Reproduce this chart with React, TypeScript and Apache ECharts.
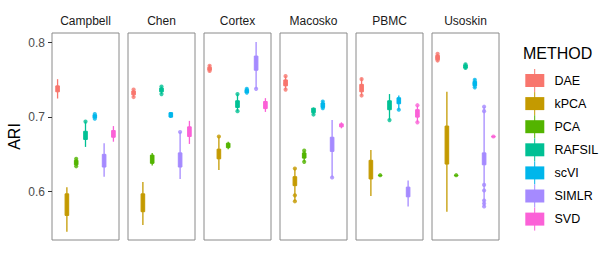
import React, { useEffect, useRef } from "react";
import * as echarts from "echarts";

const FACETS = ["Campbell", "Chen", "Cortex", "Macosko", "PBMC", "Usoskin"];
const METHODS = ["DAE", "kPCA", "PCA", "RAFSIL", "scVI", "SIMLR", "SVD"];
const COLORS = ["#F8766D", "#C49A00", "#53B400", "#00C094", "#00B6EB", "#A58AFF", "#FB61D7"];
const Y_TICKS = [0.6, 0.7, 0.8];

// box stats per method: [low whisker, q1, median, q3, high whisker]
const campbellBox = [
  [0.725, 0.734, 0.738, 0.742, 0.751],
  [0.546, 0.568, 0.58, 0.597, 0.606],
  [0.634, 0.636, 0.639, 0.642, 0.644],
  [0.66, 0.67, 0.675, 0.681, 0.694],
  [0.698, 0.699, 0.701, 0.703, 0.704],
  [0.62, 0.633, 0.641, 0.65, 0.665],
  [0.667, 0.673, 0.677, 0.682, 0.688],
];
const chenBox = [
  [0.727, 0.73, 0.733, 0.735, 0.737],
  [0.555, 0.573, 0.585, 0.597, 0.613],
  [0.635, 0.638, 0.643, 0.649, 0.652],
  [0.731, 0.734, 0.737, 0.739, 0.741],
  [0.699, 0.7, 0.703, 0.706, 0.707],
  [0.617, 0.633, 0.642, 0.652, 0.68],
  [0.664, 0.674, 0.68, 0.687, 0.695],
];
const cortexBox = [
  [0.761, 0.763, 0.765, 0.767, 0.77],
  [0.629, 0.644, 0.651, 0.657, 0.674],
  [0.657, 0.659, 0.662, 0.665, 0.667],
  [0.708, 0.713, 0.717, 0.722, 0.731],
  [0.732, 0.733, 0.735, 0.737, 0.739],
  [0.738, 0.763, 0.772, 0.782, 0.801],
  [0.707, 0.7115, 0.716, 0.721, 0.7255],
];
const macoskoBox = [
  [0.737, 0.742, 0.745, 0.75, 0.755],
  [0.587, 0.608, 0.613, 0.62, 0.631],
  [0.64, 0.645, 0.65, 0.652, 0.655],
  [0.7035, 0.706, 0.709, 0.712, 0.713],
  [0.711, 0.713, 0.716, 0.719, 0.722],
  [0.619, 0.654, 0.664, 0.673, 0.696],
  [0.685, 0.687, 0.689, 0.691, 0.693],
];
const pbmcBox = [
  [0.729, 0.734, 0.739, 0.744, 0.752],
  [0.594, 0.617, 0.63, 0.642, 0.656],
  [0.622, 0.622, 0.622, 0.622, 0.622],
  [0.696, 0.71, 0.716, 0.722, 0.731],
  [0.71, 0.718, 0.722, 0.726, 0.729],
  [0.58, 0.593, 0.599, 0.606, 0.615],
  [0.693, 0.7, 0.705, 0.71, 0.7156],
];
const usoskinBox = [
  [0.775, 0.777, 0.78, 0.783, 0.785],
  [0.573, 0.637, 0.665, 0.688, 0.734],
  [0.622, 0.622, 0.622, 0.622, 0.622],
  [0.7645, 0.766, 0.768, 0.77, 0.772],
  [0.739, 0.742, 0.745, 0.748, 0.751],
  [0.58, 0.636, 0.644, 0.652, 0.714],
  [0.674, 0.674, 0.674, 0.674, 0.674],
];

// individual points: [method index, value]
const campbellPts = [[2, 0.644], [2, 0.634], [3, 0.694], [4, 0.704], [4, 0.698]];
const chenPts = [[0, 0.737], [0, 0.727], [3, 0.741], [3, 0.731], [5, 0.68]];
const cortexPts = [[0, 0.769], [0, 0.762], [1, 0.674], [3, 0.731], [3, 0.708], [4, 0.738], [4, 0.733], [5, 0.738]];
const macoskoPts = [[0, 0.755], [0, 0.745], [0, 0.737], [1, 0.631], [1, 0.595], [1, 0.587], [2, 0.655], [2, 0.64], [3, 0.7035], [4, 0.721], [4, 0.712], [5, 0.619]];
const pbmcPts = [[0, 0.751], [0, 0.729], [2, 0.622], [3, 0.696], [4, 0.71], [6, 0.716], [6, 0.693]];
const usoskinPts = [[0, 0.785], [0, 0.78], [0, 0.776], [2, 0.622], [3, 0.771], [3, 0.766], [4, 0.75], [4, 0.745], [4, 0.74], [5, 0.714], [5, 0.708], [5, 0.609], [5, 0.6015], [5, 0.588], [5, 0.584], [5, 0.58], [6, 0.674]];

const BOXES = [campbellBox, chenBox, cortexBox, macoskoBox, pbmcBox, usoskinBox];
const POINTS = [campbellPts, chenPts, cortexPts, macoskoPts, pbmcPts, usoskinPts];

export default function App() {
  const ref = useRef<HTMLDivElement>(null);
  useEffect(() => {
    if (!ref.current) return;
    const chart = echarts.init(ref.current, undefined, { renderer: "svg" });
    const PANEL_LEFT = 52;
    const PANEL_STEP = 76;
    const PANEL_W = 67;
    const TOP = 33;
    const H = 207;
    const YMIN = 0.535;
    const YMAX = 0.813;

    const grids: any[] = [];
    const xAxes: any[] = [];
    const yAxes: any[] = [];
    const series: any[] = [];
    const graphics: any[] = [];

    FACETS.forEach((f, i) => {
      const left = PANEL_LEFT + i * PANEL_STEP;
      grids.push({
        left,
        top: TOP,
        width: PANEL_W,
        height: H,
        show: true,
        borderColor: "#8a8a8a",
        borderWidth: 1,
        backgroundColor: "#fff",
      });
      xAxes.push({ gridIndex: i, type: "value", min: 0.4, max: 7.6, show: false });
      yAxes.push({
        gridIndex: i,
        type: "value",
        min: YMIN,
        max: YMAX,
        show: i === 0,
        splitLine: { show: false },
        axisLine: { show: false },
        axisTick: {
          show: i === 0,
          length: 4,
          lineStyle: { color: "#333" },
          customValues: Y_TICKS,
        },
        axisLabel: {
          show: i === 0,
          color: "#4d4d4d",
          fontSize: 12,
          fontFamily: "Liberation Sans, Arial, sans-serif",
          margin: 7,
          customValues: Y_TICKS,
          formatter: (v: number) => v.toFixed(1),
        },
        name: i === 0 ? "ARI" : "",
        nameLocation: "middle",
        nameGap: 30,
        nameRotate: 90,
        nameTextStyle: { fontSize: 16, color: "#000", fontFamily: "Liberation Sans, Arial, sans-serif" },
      });
      graphics.push({
        type: "text",
        x: left + PANEL_W / 2,
        y: 21,
        style: {
          text: f,
          fill: "#1a1a1a",
          fontSize: 12,
          fontFamily: "Liberation Sans, Arial, sans-serif",
          align: "center",
          verticalAlign: "middle",
        },
      });
      const boxData = BOXES[i].map((b, m) => [m + 1, ...b, m]);
      series.push({
        type: "custom",
        xAxisIndex: i,
        yAxisIndex: i,
        data: boxData,
        encode: { x: 0, y: [1, 2, 3, 4, 5] },
        renderItem: (params: any, api: any) => {
          const x = api.value(0);
          const color = COLORS[api.value(6)];
          const pLow = api.coord([x, api.value(1)]);
          const pQ1 = api.coord([x, api.value(2)]);
          const pQ3 = api.coord([x, api.value(4)]);
          const pHigh = api.coord([x, api.value(5)]);
          const bw = 3.6;
          return {
            type: "group",
            children: [
              {
                type: "line",
                shape: { x1: pLow[0], y1: pLow[1], x2: pHigh[0], y2: pHigh[1] },
                style: { stroke: color, lineWidth: 1.3 },
              },
              {
                type: "rect",
                shape: { x: pQ1[0] - bw / 2, y: pQ3[1], width: bw, height: Math.max(pQ1[1] - pQ3[1], 0.5) },
                style: { fill: color, stroke: color, lineWidth: 1 },
              },
            ],
          };
        },
      });
      series.push({
        type: "scatter",
        xAxisIndex: i,
        yAxisIndex: i,
        symbolSize: 4.2,
        data: POINTS[i].map(([m, v]) => ({ value: [m + 1, v], itemStyle: { color: COLORS[m] } })),
      });
    });

    // legend
    graphics.push({
      type: "text",
      x: 523,
      y: 53.5,
      style: {
        text: "METHOD",
        fill: "#000",
        fontSize: 16,
        fontFamily: "Liberation Sans, Arial, sans-serif",
        verticalAlign: "middle",
      },
    });
    METHODS.forEach((m, k) => {
      const cy = 80.5 + k * 23.1;
      graphics.push({
        type: "line",
        shape: { x1: 534.7, y1: cy - 11.5, x2: 534.7, y2: cy + 11.5 },
        style: { stroke: COLORS[k], lineWidth: 1 },
      });
      graphics.push({
        type: "rect",
        shape: { x: 525.3, y: cy - 6.5, width: 19, height: 13 },
        style: { fill: COLORS[k] },
      });
      graphics.push({
        type: "text",
        x: 554.5,
        y: cy,
        style: {
          text: m,
          fill: "#000",
          fontSize: 12.5,
          fontFamily: "Liberation Sans, Arial, sans-serif",
          verticalAlign: "middle",
        },
      });
    });

    chart.setOption({
      animation: false,
      backgroundColor: "#fff",
      grid: grids,
      xAxis: xAxes,
      yAxis: yAxes,
      series,
      graphic: graphics,
    });
    return () => chart.dispose();
  }, []);
  return <div ref={ref} style={{ width: 615, height: 260, position: "absolute", left: 0, top: 0 }} />;
}
